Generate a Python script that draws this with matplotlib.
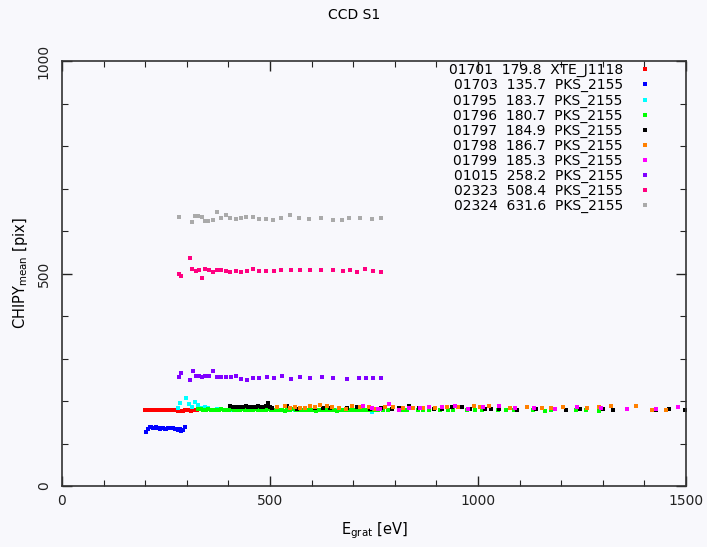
import matplotlib
matplotlib.use("Agg")
import matplotlib.pyplot as plt
from matplotlib.ticker import MultipleLocator

# ---------------- data ----------------
labels = ["01701  179.8  XTE_J1118", "01703  135.7  PKS_2155", "01795  183.7  PKS_2155",
          "01796  180.7  PKS_2155", "01797  184.9  PKS_2155", "01798  186.7  PKS_2155",
          "01799  185.3  PKS_2155", "01015  258.2  PKS_2155", "02323  508.4  PKS_2155",
          "02324  631.6  PKS_2155"]
colors = ["#ff0000", "#0000ff", "#00ffff", "#00ff00", "#000000", "#ff8000",
          "#ff00ff", "#8000ff", "#ff0080", "#aaaaaa"]

red_x = [200, 205, 210, 215, 220, 225, 230, 235, 240, 245, 250, 255, 260, 265, 270,
         275, 280, 285, 290, 295, 300, 305, 310, 315, 320, 325]
red_y = [180, 180, 180, 180, 180, 180, 180, 180, 180, 180, 180, 180, 180, 180, 180,
         180, 176, 177, 176, 180, 180, 180, 176, 180, 180, 180]

blue_x = [203, 207, 211, 215, 219, 223, 227, 231, 235, 239, 243, 247, 251, 255, 259,
          263, 267, 271, 275, 279, 283, 287, 291, 296]
blue_y = [128, 134, 139, 138, 136, 136, 138, 137, 135, 136, 137, 135, 134, 136, 137,
          136, 136, 135, 134, 132, 134, 130, 131, 139]

cyan_x = [280, 284, 298, 305, 312, 320, 327, 334, 344, 352, 372, 404, 444, 483, 560,
          612, 660, 744]
cyan_y = [184, 196, 208, 194, 187, 198, 191, 184, 187, 184, 182, 180, 179, 179, 178,
          178, 179, 175]

green_x = [327, 333, 340, 346, 352, 358, 364, 370, 377, 383, 389, 395, 402, 408, 414,
           420, 427, 433, 439, 446, 452, 458, 465, 471, 478, 484, 490, 497, 503, 510,
           516, 523, 529, 536, 542, 549, 556, 562, 569, 576, 583, 590, 597, 604, 611,
           618, 625, 632, 640, 647, 655, 662, 670, 678, 686, 694, 703, 712, 721, 730,
           740, 750, 760, 772, 784, 820, 829, 856, 868, 882, 909, 928, 940, 973, 993,
           1010, 1048, 1067, 1087, 1132, 1160, 1175, 1235, 1260, 1291]
green_y = [181, 182, 180, 179, 181, 180, 179, 178, 180, 181, 179, 180, 179, 181, 178,
           180, 179, 181, 180, 178, 179, 180, 181, 179, 178, 180, 179, 181, 180, 179,
           178, 180, 179, 177, 180, 179, 181, 178, 180, 179, 180, 178, 179, 180, 177,
           179, 180, 178, 179, 180, 179, 177, 180, 179, 178, 180, 179, 180, 178, 179,
           180, 179, 178, 179, 179, 179, 179, 179, 179, 179, 179, 179, 179, 179, 179,
           179, 179, 179, 179, 179, 177, 179, 179, 179, 177]

black_x = [404, 412, 418, 424, 430, 436, 442, 448, 454, 460, 466, 472, 478, 484, 490,
           494, 500, 506, 540, 564, 608, 628, 644, 684, 708, 740, 768, 794, 809, 834,
           857, 894, 914, 937, 962, 981, 1017, 1031, 1050, 1093, 1139, 1212, 1244, 1301,
           1324, 1427, 1459, 1498]
black_y = [189, 187, 187, 186, 187, 186, 188, 187, 187, 186, 187, 188, 187, 187, 188,
           195, 186, 184, 189, 182, 184, 184, 184, 184, 187, 182, 184, 181, 184, 189,
           184, 181, 181, 187, 187, 181, 181, 181, 181, 179, 181, 179, 181, 181, 179,
           179, 181, 179]

orange_x = [516, 536, 548, 560, 572, 584, 596, 608, 620, 636, 648, 666, 683, 698, 716,
            738, 752, 776, 796, 820, 844, 867, 897, 925, 953, 990, 1005, 1026, 1077,
            1117, 1153, 1175, 1204, 1261, 1290, 1319, 1381, 1418, 1451]
orange_y = [187, 189, 184, 187, 184, 184, 189, 187, 191, 189, 187, 184, 182, 189, 187,
            187, 181, 187, 187, 184, 184, 184, 184, 187, 187, 189, 187, 189, 184, 187,
            184, 184, 187, 184, 187, 189, 189, 179, 179]

magenta_x = [724, 744, 760, 764, 786, 809, 834, 861, 882, 913, 944, 975, 1011, 1050,
             1090, 1135, 1185, 1238, 1296, 1357, 1427, 1480]
magenta_y = [189, 184, 182, 181, 192, 179, 184, 184, 187, 187, 189, 181, 187, 189,
             184, 184, 181, 187, 184, 181, 181, 187]

purple_x = [281, 286, 308, 315, 322, 329, 337, 344, 353, 363, 373, 382, 394, 406, 418,
            430, 445, 459, 474, 493, 510, 529, 550, 572, 596, 625, 651, 685, 714, 731,
            748, 767]
purple_y = [257, 267, 250, 271, 260, 260, 257, 260, 260, 271, 257, 257, 257, 257, 260,
            252, 250, 255, 255, 257, 255, 260, 252, 257, 255, 257, 255, 252, 255, 255,
            255, 255]

pink_x = [281, 286, 308, 312, 322, 329, 337, 344, 353, 363, 373, 382, 394, 404, 418,
          430, 445, 459, 474, 490, 510, 526, 550, 572, 596, 623, 651, 675, 692, 709,
          728, 748, 767]
pink_y = [500, 495, 537, 511, 507, 509, 490, 511, 509, 504, 509, 509, 507, 504, 507,
          504, 507, 511, 507, 507, 507, 509, 509, 509, 509, 509, 509, 507, 509, 504,
          511, 507, 504]

gray_x = [281, 312, 320, 328, 336, 344, 352, 362, 373, 382, 394, 404, 418, 430, 442,
          459, 474, 490, 507, 526, 547, 570, 594, 623, 651, 673, 690, 716, 745, 767]
gray_y = [634, 622, 636, 636, 632, 624, 624, 627, 645, 631, 638, 631, 629, 631, 634,
          634, 629, 629, 627, 631, 638, 631, 629, 631, 627, 627, 631, 631, 629, 631]

series = [(red_x, red_y), (blue_x, blue_y), (cyan_x, cyan_y), (green_x, green_y),
          (black_x, black_y), (orange_x, orange_y), (magenta_x, magenta_y),
          (purple_x, purple_y), (pink_x, pink_y), (gray_x, gray_y)]

# ---------------- plot ----------------
plt.rcParams["font.family"] = ["DejaVu Sans"]
bg = "#f8f8fc"
fig = plt.figure(figsize=(7.07, 5.47), dpi=100, facecolor=bg)
ax = fig.add_axes([62 / 707, 1 - 486 / 547, 624 / 707, 425 / 547], facecolor=bg)

for (xs, ys), c, lab in zip(series, colors, labels):
    ax.plot(xs, ys, linestyle="none", marker="s", markersize=3.0, color=c,
            markeredgewidth=0, label=lab)

ax.set_xlim(0, 1500)
ax.set_ylim(0, 1000)
ax.xaxis.set_major_locator(MultipleLocator(500))
ax.xaxis.set_minor_locator(MultipleLocator(100))
ax.yaxis.set_major_locator(MultipleLocator(500))
ax.yaxis.set_minor_locator(MultipleLocator(100))
ax.tick_params(which="both", direction="in", top=True, right=True, colors="#222222",
               labelsize=10)
ax.tick_params(which="major", length=7, width=1)
ax.tick_params(which="minor", length=4, width=0.8)
ax.tick_params(axis="x", pad=6)
ax.tick_params(axis="y", pad=8)
for t in ax.get_yticklabels():
    t.set_rotation(90)
    t.set_va("center")
for s in ax.spines.values():
    s.set_color("#333333")
    s.set_linewidth(1.2)

ax.set_xlabel(r"E$_{\rm grat}$ [eV]", fontsize=10.5, labelpad=9)
ax.set_ylabel(r"CHIPY$_{\rm mean}$ [pix]", fontsize=10.5, labelpad=5)
fig.text(354 / 707, 1 - 15 / 547, "CCD S1", ha="center", va="center", fontsize=10)

leg = ax.legend(loc="upper right", bbox_to_anchor=(0.952, 1.008), frameon=False,
                markerfirst=False, fontsize=10, handletextpad=1.19,
                labelspacing=0.07, handlelength=0.8, markerscale=1.0,
                borderaxespad=0.0)

fig.savefig("out.png", dpi=100, facecolor=bg)
